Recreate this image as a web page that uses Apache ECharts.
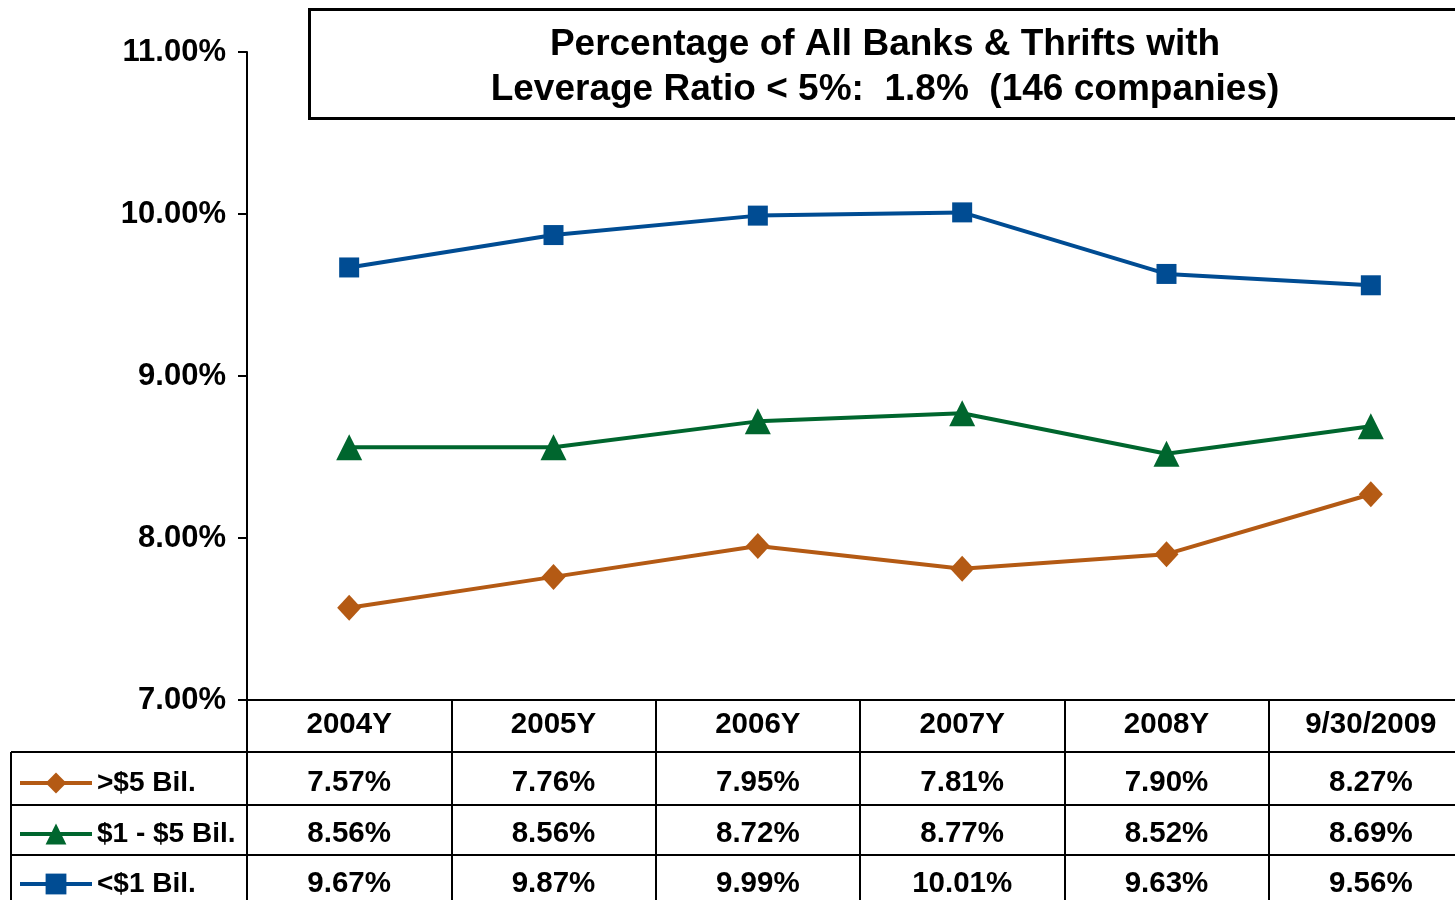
<!DOCTYPE html>
<html><head><meta charset="utf-8">
<script src="https://cdn.jsdelivr.net/npm/echarts@6/dist/echarts.min.js"></script>
<style>html,body{margin:0;padding:0;overflow:hidden;background:#fff;width:1455px;height:900px}#c{width:1480px;height:900px}</style>
</head><body><div id="c"></div><script>
const categories = ['2004Y', '2005Y', '2006Y', '2007Y', '2008Y', '9/30/2009'];
const seriesNames = ['>$5 Bil.', '$1 - $5 Bil.', '<$1 Bil.'];
const over5 = [7.57, 7.76, 7.95, 7.81, 7.90, 8.27];
const from1to5 = [8.56, 8.56, 8.72, 8.77, 8.52, 8.69];
const under1 = [9.67, 9.87, 9.99, 10.01, 9.63, 9.56];
const yTicks = [7, 8, 9, 10, 11];
const titleText = 'Percentage of All Banks & Thrifts with\nLeverage Ratio < 5%:  1.8%  (146 companies)';

const FONT = '"Liberation Sans", Arial, sans-serif';
const colors = ['#B45A14', '#00662E', '#004C93'];
const allData = [over5, from1to5, under1];
const symbols = ['diamond', 'triangle', 'rect'];
const symbolSizes = [[24, 26], [26, 26], [20, 20]];

const chart = echarts.init(document.getElementById('c'));
const gridLeft = 247, gridTop = 52, gridH = 648, gridW = 1226;

// layout of the data table (pixel rows)
const headerY = 725;
const rowY = [783, 834, 884];
const rowLines = [752, 805, 855];

chart.setOption({
  animation: false,
  backgroundColor: '#fff',
  title: {
    text: titleText, left: 885, top: 22, textAlign: 'center', padding: 0,
    textStyle: { fontFamily: FONT, fontSize: 37, fontWeight: 'bold', color: '#000', lineHeight: 45 }
  },
  legend: seriesNames.map((n, i) => ({
    orient: 'vertical', left: 18, top: rowY[i] - 14, itemWidth: 72, itemHeight: 26, padding: 0, itemGap: 0,
    data: [n],
    lineStyle: { width: 4 },
    textStyle: { fontFamily: FONT, fontSize: 28, fontWeight: 'bold', color: '#000', lineHeight: 26 }
  })),
  grid: { left: gridLeft, top: gridTop, width: gridW, height: gridH, containLabel: false },
  xAxis: {
    type: 'category', data: categories, boundaryGap: true,
    axisLine: { show: true, lineStyle: { color: '#000', width: 2 } },
    axisTick: { show: true, inside: false, length: 210, lineStyle: { color: '#000', width: 2 } },
    axisLabel: { show: false }, splitLine: { show: false }
  },
  yAxis: {
    type: 'value', min: yTicks[0], max: yTicks[yTicks.length - 1], interval: 1,
    axisLine: { show: true, lineStyle: { color: '#000', width: 2 } },
    axisTick: { show: true, inside: false, length: 9, lineStyle: { color: '#000', width: 2 } },
    axisLabel: { margin: 21, fontFamily: FONT, fontSize: 31, fontWeight: 'bold', color: '#000',
      formatter: v => v.toFixed(2) + '%' },
    splitLine: { show: false }
  },
  series: seriesNames.map((n, i) => ({
    name: n, type: 'line', data: allData[i], symbol: symbols[i], symbolSize: symbolSizes[i],
    lineStyle: { color: colors[i], width: 4 }, itemStyle: { color: colors[i] }
  }))
});

const g = [];
g.push({ type: 'rect', shape: { x: 309.5, y: 9.5, width: 1300, height: 109 }, style: { fill: 'none', stroke: '#000', lineWidth: 3 } });
rowLines.forEach(y => g.push({ type: 'line', shape: { x1: 11, y1: y, x2: 1480, y2: y }, style: { stroke: '#000', lineWidth: 2 } }));
g.push({ type: 'line', shape: { x1: 11, y1: rowLines[0], x2: 11, y2: 900 }, style: { stroke: '#000', lineWidth: 2 } });
const txt = (x, y, s) => ({ type: 'text', x: x, y: y, style: { text: s, x: 0, y: 0, align: 'center', verticalAlign: 'middle',
  font: 'bold 29.5px ' + FONT, fill: '#000' } });
categories.forEach((c, j) => {
  const px = chart.convertToPixel({ xAxisIndex: 0 }, c);
  g.push(txt(px, headerY, c));
  allData.forEach((arr, i) => g.push(txt(px, rowY[i], arr[j].toFixed(2) + '%')));
});
chart.setOption({ graphic: g });
</script></body></html>
